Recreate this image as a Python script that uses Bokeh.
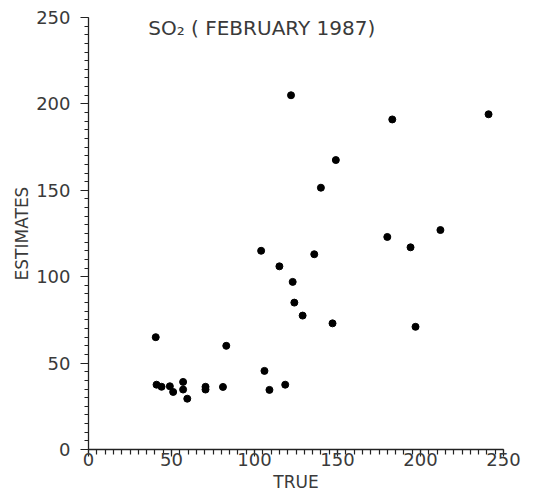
from bokeh.plotting import figure
from bokeh.models import Range1d, SingleIntervalTicker, Label
from bokeh.embed import file_html
from bokeh.resources import INLINE

# Data (TRUE vs ESTIMATES)
true_vals = [122, 183, 241, 149, 140, 180, 212, 194, 104,
             136, 115, 123, 124, 129, 147, 197, 40.5, 83, 106, 109, 118.5,
             41, 44, 49, 51, 57, 57, 59.5, 70.5, 70.5, 81]
est_vals = [205, 191, 194, 167.5, 151.5, 123, 127, 117, 115,
            113, 106, 97, 85, 77.5, 73, 71, 65, 60, 45.5, 34.5, 37.5,
            37.5, 36.3, 36.6, 33.3, 39.1, 34.7, 29.4, 36.3, 34.7, 36.2]
title_text = "SO\u2082 ( FEBRUARY 1987)"
x_label = "TRUE"
y_label = "ESTIMATES"

FONT = "DejaVu Sans"
TXT = "#3a3a3a"

p = figure(width=549, height=494, output_backend="svg", toolbar_location=None,
           x_range=Range1d(0, 250), y_range=Range1d(0, 250),
           min_border_left=88, min_border_right=46, min_border_top=17,
           min_border_bottom=44, outline_line_color=None,
           background_fill_color="white", border_fill_color="white")
p.grid.visible = False

for ax in (p.xaxis[0], p.yaxis[0]):
    ax.ticker = SingleIntervalTicker(interval=50, num_minor_ticks=10)
    ax.axis_line_color = "#222222"
    ax.axis_line_width = 1.3
    ax.major_tick_line_color = "#222222"
    ax.minor_tick_line_color = "#222222"
    ax.major_tick_line_width = 1.2
    ax.minor_tick_line_width = 1.2
    ax.major_tick_in = 0
    ax.minor_tick_in = 0
    ax.major_label_text_font = FONT
    ax.major_label_text_font_size = "18px"
    ax.major_label_text_color = TXT
    ax.axis_label_text_font = FONT
    ax.axis_label_text_font_size = "17px"
    ax.axis_label_text_font_style = "normal"
    ax.axis_label_text_color = TXT

p.xaxis.major_tick_out = 7
p.xaxis.minor_tick_out = 5
p.xaxis.major_label_standoff = -4
p.xaxis.axis_label = x_label
p.xaxis.axis_label_standoff = 3

p.yaxis.major_tick_out = 8
p.yaxis.minor_tick_out = 4
p.yaxis.major_label_standoff = 10
p.yaxis.axis_label = y_label
p.yaxis.axis_label_standoff = 1

p.scatter(true_vals, est_vals, size=7, color="black", line_color="black")

p.add_layout(Label(x=36, y=244, x_units="data", y_units="data",
                   text=title_text, text_font=FONT, text_font_size="20px",
                   text_color=TXT, text_baseline="middle"))

open("out.html", "w").write(file_html(p, INLINE))
